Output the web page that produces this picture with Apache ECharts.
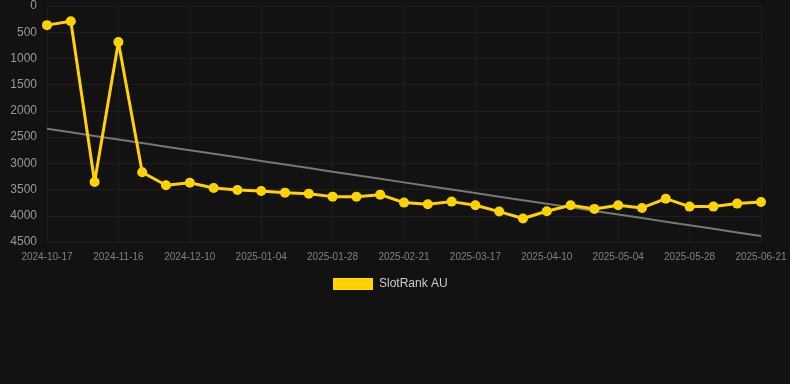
<!DOCTYPE html>
<html><head><meta charset="utf-8">
<script src="https://cdn.jsdelivr.net/npm/echarts@6/dist/echarts.min.js"></script>
<style>html,body{margin:0;padding:0;background:#121212;}#c{width:790px;height:384px;}</style>
</head><body><div id="c"></div>
<script>
const dates = ["2024-10-17","2024-10-27","2024-11-06","2024-11-16","2024-11-24","2024-12-02","2024-12-10","2024-12-18","2024-12-26","2025-01-04","2025-01-12","2025-01-20","2025-01-28","2025-02-05","2025-02-13","2025-02-21","2025-03-01","2025-03-09","2025-03-17","2025-03-25","2025-04-02","2025-04-10","2025-04-18","2025-04-26","2025-05-04","2025-05-12","2025-05-20","2025-05-28","2025-06-05","2025-06-13","2025-06-21"];
const rankAU = [365,290,3355,688,3171,3418,3370,3470,3508,3527,3559,3578,3635,3635,3597,3749,3780,3730,3799,3920,4053,3913,3799,3869,3799,3850,3673,3825,3825,3768,3736];
const seriesName = "SlotRank AU";

// linear regression trend line computed from the data
const n = rankAU.length;
let sx=0, sy=0, sxy=0, sxx=0;
rankAU.forEach((v,i)=>{sx+=i;sy+=v;sxy+=i*v;sxx+=i*i;});
const slope = (n*sxy - sx*sy)/(n*sxx - sx*sx);
const icpt = (sy - slope*sx)/n;
const trend = rankAU.map((v,i)=> +(icpt + slope*i).toFixed(1));

const chart = echarts.init(document.getElementById('c'));
chart.setOption({
  backgroundColor:'#121212',
  animation:false,
  grid:{left:47,right:29,top:6,bottom:142},
  legend:{
    data:[seriesName], top:273, left:328, itemGap:10,
    itemWidth:40, itemHeight:12, icon:'rect',
    textStyle:{color:'#ccc',fontSize:12,padding:[0,0,0,1],fontFamily:'Arial, Liberation Sans, sans-serif'}
  },
  xAxis:{
    type:'category', data:dates, boundaryGap:false,
    axisLine:{show:false}, axisTick:{show:false},
    axisLabel:{interval:2,color:'#808080',fontSize:10,margin:10,fontFamily:'Arial, Liberation Sans, sans-serif'},
    splitLine:{show:true,interval:2,lineStyle:{color:'#1e1e1e',width:1}}
  },
  yAxis:{
    type:'value', inverse:true, min:0, max:4500, interval:500,
    axisLine:{show:false}, axisTick:{show:false},
    axisLabel:{color:'#999',fontSize:12,margin:10,formatter:v=>String(v),fontFamily:'Arial, Liberation Sans, sans-serif'},
    splitLine:{lineStyle:{color:'#1e1e1e',width:1}}
  },
  series:[
    {name:seriesName,type:'line',data:rankAU,symbol:'circle',symbolSize:10,
     lineStyle:{color:'#FFD200',width:3},itemStyle:{color:'#FFD200'},z:3},
    {name:'trend',type:'line',data:trend,symbol:'none',
     lineStyle:{color:'#777',width:2},z:2,silent:true}
  ]
});
</script></body></html>
